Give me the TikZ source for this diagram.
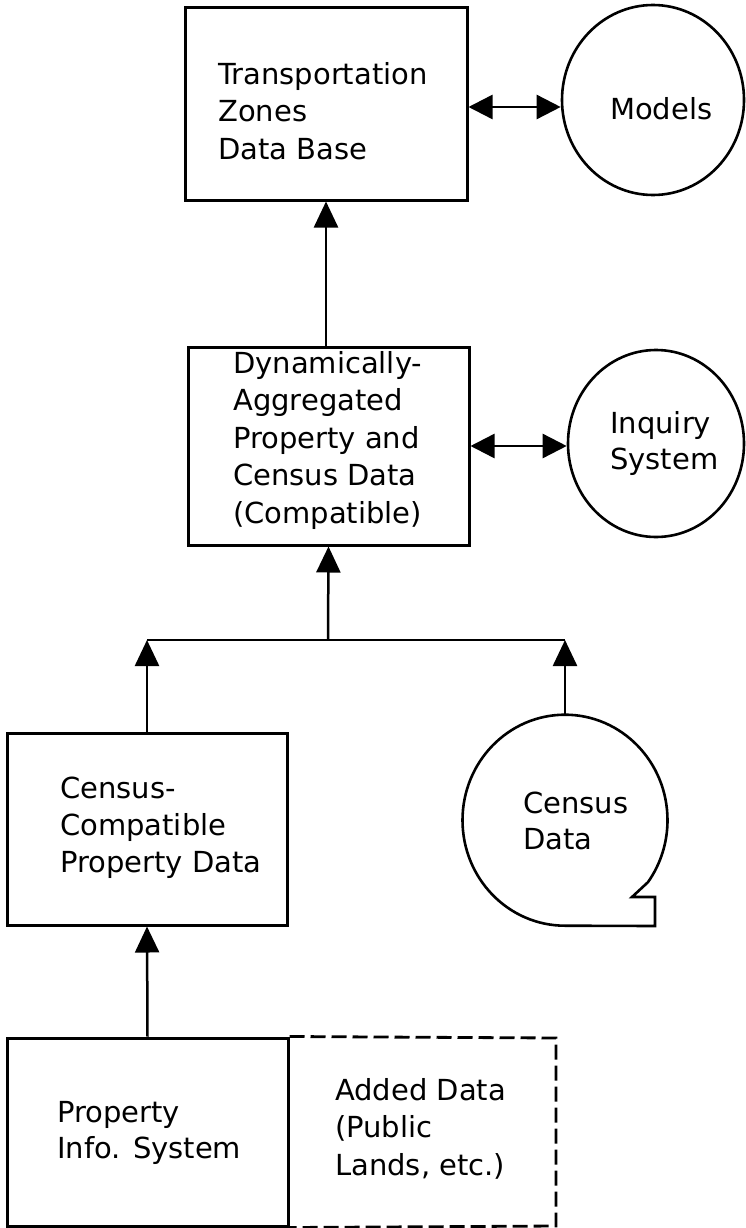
\documentclass[tikz,border=0pt]{standalone}
\usepackage{fontspec}
\setmainfont{DejaVu Sans}
\usetikzlibrary{arrows.meta,shapes.geometric,calc}
\begin{document}
\begin{tikzpicture}[x=1pt,y=1pt,
  boxnode/.style={draw,line width=3pt,rectangle,inner sep=0pt},
  roundnode/.style={draw,line width=2.6pt,ellipse,inner sep=0pt},
  lbl/.style={anchor=north west,inner sep=0pt,align=left,font=\fontsize{29}{37.5}\selectfont},
  flow/.style={line width=2.5pt,-{Triangle[length=26pt,width=24pt]}},
  both/.style={line width=2.5pt,{Triangle[length=24pt,width=24pt]}-{Triangle[length=24pt,width=24pt]}},
  plain/.style={line width=2.5pt},
  dashedbox/.style={line width=2.8pt,dash pattern=on 15pt off 6pt}]
\useasboundingbox (0,0) rectangle (745,-1228);

% boxes
\node[boxnode,minimum width=282pt,minimum height=192pt] (box1) at (326,-104) {};
\node[boxnode,minimum width=281pt,minimum height=198pt] (box2) at (328.5,-446) {};
\node[boxnode,minimum width=280pt,minimum height=192pt] (box3) at (147,-829) {};
\node[boxnode,minimum width=281pt,minimum height=188pt] (pis) at (147.5,-1132) {};

% circles
\node[roundnode,minimum width=182pt,minimum height=190pt] (models) at (653,-100) {};
\node[roundnode,minimum width=176pt,minimum height=187pt] (inq) at (656,-443.5) {};
\node[ellipse,inner sep=0pt,minimum width=205pt,minimum height=211pt] (cdata) at (565,-820) {};
\draw[line width=2.6pt,line join=miter]
  (cdata.south) arc[start angle=270,end angle=-36,x radius=102.5,y radius=105.5]
  -- (632,-897) -- (655,-897) -- (655,-926) -- cycle;

% dashed added-data box
\coordinate (dtl) at (pis.north east);
\coordinate (dtr) at (556,-1038);
\coordinate (dbr) at (556,-1226);
\coordinate (dbl) at (pis.south east);
\draw[dashedbox] (dtl) -- (dtr) -- (dbr) -- (dbl);

% texts
\node[lbl] (t1) at (218,-62) {Transportation\\Zones\\Data Base};
\node[lbl] (t2) at (233,-351) {Dynamically-\\Aggregated\\Property and\\Census Data\\(Compatible)};
\node[lbl] (tm) at (610,-97) {Models};
\node[lbl,font=\fontsize{29}{36}\selectfont] (ti) at (610,-411) {Inquiry\\System};
\node[lbl,font=\fontsize{29}{37}\selectfont] (t3) at (60,-777) {Census-\\Compatible\\Property Data};
\node[lbl,font=\fontsize{29}{36}\selectfont] (tc) at (523,-792) {Census\\Data};
\node[lbl,font=\fontsize{29}{36}\selectfont] (tp) at (57,-1101) {Property\\Info. System};
\node[lbl] (ta) at (335,-1078) {Added Data\\(Public\\Lands, etc.)};

% connectors
\coordinate (busL) at (147,-640);
\coordinate (busR) at (565,-640);
\coordinate (busM) at (328,-640);
\draw[plain] (busL) -- (busR);
\draw[flow] (box3.north) -- (busL);
\draw[flow] (cdata.north) -- (busR);
\draw[flow] (busM) -- (box2.south);
\draw[flow] (box1.south |- box2.north) -- (box1.south);
\draw[flow] (pis.north) -- (box3.south);
\draw[both] ([yshift=-3pt]box1.east) -- ([yshift=-3pt]box1.east -| models.west);
\draw[both] (box2.east) -- (box2.east -| inq.west);
\end{tikzpicture}
\end{document}
